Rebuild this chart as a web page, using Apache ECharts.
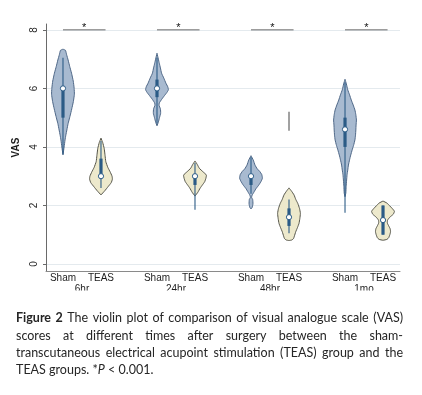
<!DOCTYPE html>
<html><head><meta charset="utf-8">
<script src="https://cdn.jsdelivr.net/npm/echarts@6/dist/echarts.min.js"></script>
<style>html,body{margin:0;padding:0;background:#fff}#c{width:422px;height:395px}</style>
</head><body><div id="c"></div>
<script>
// ---------- data ----------
const groups = ['6hr', '24hr', '48hr', '1mo'];
const arms = ['Sham', 'TEAS'];
const yTicks = [0, 2, 4, 6, 8];
const sigLevel = 8;
const sigLabel = '*';

// kernel density profiles: [VAS, relative density]
const shamDensity6hr = [[7.34,0],[7.3,0.22],[7.15,0.32],[6.97,0.45],[6.75,0.59],[6.52,0.75],[6.25,0.9],[6.0,0.98],[5.8,1.0],[5.55,0.91],[5.3,0.77],[5.04,0.61],[4.8,0.45],[4.58,0.34],[4.4,0.25],[4.24,0.18],[4.0,0.1],[3.73,0]];
const teasDensity6hr = [[4.3,0],[4.15,0.15],[3.95,0.28],[3.7,0.36],[3.5,0.42],[3.3,0.6],[3.15,0.8],[3.0,0.97],[2.9,1.0],[2.78,0.9],[2.64,0.62],[2.5,0.33],[2.36,0]];
const shamDensity24hr = [[7.2,0],[7.0,0.12],[6.86,0.2],[6.7,0.3],[6.52,0.4],[6.35,0.6],[6.18,0.78],[6.05,0.95],[5.95,1.0],[5.85,0.85],[5.75,0.65],[5.62,0.4],[5.5,0.2],[5.42,0.18],[5.3,0.3],[5.15,0.32],[5.0,0.22],[4.85,0.12],[4.72,0]];
const teasDensity24hr = [[3.52,0],[3.4,0.2],[3.27,0.38],[3.15,0.7],[3.04,1.0],[2.92,0.95],[2.81,0.85],[2.7,0.65],[2.59,0.45],[2.45,0.25],[2.32,0]];
const shamDensity48hr = [[3.7,0],[3.55,0.2],[3.38,0.35],[3.25,0.55],[3.16,0.77],[3.05,0.95],[2.93,1.0],[2.82,0.88],[2.7,0.69],[2.58,0.45],[2.47,0.28],[2.35,0.1],[2.28,0.05],[2.2,0.15],[2.05,0.17],[1.93,0.1],[1.88,0]];
const teasDensity48hr = [[2.6,0],[2.5,0.2],[2.36,0.44],[2.2,0.6],[2.07,0.77],[1.9,0.92],[1.73,1.0],[1.55,0.95],[1.39,0.88],[1.25,0.75],[1.1,0.59],[0.95,0.47],[0.87,0.4],[0.82,0.25],[0.8,0]];
const shamDensity1mo = [[6.31,0],[6.15,0.12],[5.95,0.24],[5.78,0.4],[5.6,0.55],[5.43,0.72],[5.26,0.87],[5.1,0.95],[4.92,1.0],[4.75,0.97],[4.58,0.95],[4.4,0.92],[4.24,0.87],[4.05,0.75],[3.9,0.63],[3.72,0.5],[3.56,0.4],[3.38,0.3],[3.21,0.24],[3.05,0.18],[2.87,0.14],[2.65,0.1],[2.42,0.07],[2.3,0]];
const teasDensity1mo = [[2.15,0],[2.08,0.35],[1.98,0.6],[1.9,0.8],[1.8,1.0],[1.7,0.9],[1.6,0.6],[1.5,0.4],[1.4,0.38],[1.3,0.5],[1.2,0.63],[1.1,0.66],[1.0,0.6],[0.9,0.5],[0.84,0.35],[0.81,0]];

// box stats per time point: [lower adjacent, q1, median, q3, upper adjacent]
const shamStats = [[3.75,5,6,6,7.05],[4.8,5.7,6,6.3,7.05],[2.4,2.7,3,3,3.65],[1.75,4,4.6,5,6.2]];
const teasStats = [[2.6,3,3,3.6,4.2],[1.85,2.7,3,3,3.45],[1.05,1.3,1.6,1.9,2.2],[1,1,1.5,2,2]];
// isolated outlier density (48hr TEAS): [from, to]
const teasOutlier48hr = [4.55, 5.2];

// ---------- layout ----------
const X0 = 0.447, GROUP_STEP = 2.474, ARM_STEP = 1, X_MAX = 9.316, HALF_W = 0.3;
const posOf = (g, a) => X0 + g * GROUP_STEP + a * ARM_STEP;
const shamDens = [shamDensity6hr, shamDensity24hr, shamDensity48hr, shamDensity1mo];
const teasDens = [teasDensity6hr, teasDensity24hr, teasDensity48hr, teasDensity1mo];
const violins = [];
groups.forEach((g, gi) => {
  violins.push({x: posOf(gi, 0), arm: 0, dens: shamDens[gi], stats: shamStats[gi]});
  violins.push({x: posOf(gi, 1), arm: 1, dens: teasDens[gi], stats: teasStats[gi]});
});
const armPositions = [], armLabels = {}, groupPositions = [], groupLabelMap = {};
groups.forEach((g, gi) => {
  arms.forEach((a, ai) => { const p = posOf(gi, ai); armPositions.push(p); armLabels[p.toFixed(3)] = a; });
  const c = posOf(gi, 0.5); groupPositions.push(c); groupLabelMap[c.toFixed(3)] = g;
});

const FILL = ['#a8bad0', '#ede9cc'];
const EDGE = ['#4e6787', '#55554a'];
const BOX = '#2b5b86';
const AXF = 'Liberation Sans, Arial, sans-serif';

const chart = echarts.init(document.getElementById('c'), null, {renderer: 'canvas'});

function violinItem(params, api) {
  const v = violins[params.dataIndex];
  const right = v.dens.map(([y, d]) => api.coord([v.x + d * HALF_W, y]));
  const left = v.dens.slice().reverse().map(([y, d]) => api.coord([v.x - d * HALF_W, y]));
  const [lo, q1, med, q3, hi] = v.stats;
  const pLo = api.coord([v.x, lo]), pHi = api.coord([v.x, hi]);
  const pQ1 = api.coord([v.x, q1]), pQ3 = api.coord([v.x, q3]);
  const pMed = api.coord([v.x, med]);
  const children = [
    {type: 'polygon', shape: {points: right.concat(left), smooth: 0.15},
     style: {fill: FILL[v.arm], stroke: EDGE[v.arm], lineWidth: 1}},
    {type: 'line', shape: {x1: pLo[0], y1: pLo[1], x2: pHi[0], y2: pHi[1]},
     style: {stroke: BOX, lineWidth: 1.1}},
  ];
  if (Math.abs(pQ1[1] - pQ3[1]) > 0.5) {
    children.push({type: 'line', shape: {x1: pQ1[0], y1: pQ1[1], x2: pQ3[0], y2: pQ3[1]},
      style: {stroke: BOX, lineWidth: 3.2}});
  }
  children.push({type: 'circle', shape: {cx: pMed[0], cy: pMed[1], r: 2.6},
    style: {fill: '#ffffff', stroke: BOX, lineWidth: 1}});
  return {type: 'group', children};
}

function outlierItem(params, api) {
  const x = posOf(2, 1);
  const a = api.coord([x, teasOutlier48hr[0]]), b = api.coord([x, teasOutlier48hr[1]]);
  return {type: 'line', shape: {x1: a[0], y1: a[1], x2: b[0], y2: b[1]}, style: {stroke: '#555', lineWidth: 1.1}};
}

function sigItem(params, api) {
  const gi = params.dataIndex;
  const a = api.coord([posOf(gi, 0), sigLevel]);
  const b = api.coord([posOf(gi, 1) + 0.12, sigLevel]);
  return {type: 'group', children: [
    {type: 'line', shape: {x1: a[0], y1: a[1], x2: b[0], y2: b[1]}, style: {stroke: '#6a6a6a', lineWidth: 1}},
    {type: 'text', x: (a[0] + b[0]) / 2, y: a[1] - 1.5, style: {text: sigLabel, fontSize: 11, fontFamily: AXF, fill: '#111', align: 'center', verticalAlign: 'middle'}}
  ]};
}

// ---------- caption ----------
const captionLines = [
  'Figure 2 The violin plot of comparison of visual analogue scale (VAS)',
  'scores at different times after surgery between the sham-',
  'transcutaneous electrical acupoint stimulation (TEAS) group and the',
  'TEAS groups. *P < 0.001.'
];
const CAP_FONT = 'Lato', CAP_SIZE = 12.5, CAP_L = 16, CAP_R = 403, CAP_Y0 = 318.3, CAP_LH = 17.3;
const cv = document.createElement('canvas').getContext('2d');
function measure(t, bold, italic) {
  cv.font = (italic ? 'italic ' : '') + (bold ? 'bold ' : '') + CAP_SIZE + 'px ' + CAP_FONT;
  return cv.measureText(t).width;
}
const graphics = [];
captionLines.forEach((line, li) => {
  const words = line.split(' ');
  const info = words.map((w, wi) => {
    const bold = li === 0 && wi < 2;
    if (w === '*P') return {w, bold, rich: true, width: measure('*', false, false) + measure('P', false, true)};
    return {w, bold, rich: false, width: measure(w, bold, false)};
  });
  const total = info.reduce((s, o) => s + o.width, 0);
  const justify = li < captionLines.length - 1;
  const gap = justify ? (CAP_R - CAP_L - total) / (words.length - 1) : measure(' ', false, false);
  let x = CAP_L;
  const y = CAP_Y0 + li * CAP_LH;
  info.forEach(o => {
    const st = {fontSize: CAP_SIZE, fontFamily: CAP_FONT, fill: '#262626', fontWeight: o.bold ? 'bold' : 'normal', verticalAlign: 'middle', align: 'left'};
    if (o.rich) { st.text = '*{i|P}'; st.rich = {i: {fontStyle: 'italic', fontSize: CAP_SIZE, fontFamily: CAP_FONT, fill: '#262626'}}; }
    else st.text = o.w;
    graphics.push({type: 'text', x, y, style: st, z: 100});
    x += o.width + gap;
  });
});
// crop of the figure panel below the group labels
graphics.push({type: 'rect', shape: {x: 0, y: 290.5, width: 422, height: 12}, style: {fill: '#ffffff'}, z: 90});

chart.setOption({
  animation: false,
  backgroundColor: '#ffffff',
  grid: {left: 46, right: 22, top: 24, bottom: 124},
  xAxis: [
    {type: 'value', min: 0, max: X_MAX, position: 'bottom',
     axisLine: {show: true, onZero: false, lineStyle: {color: '#8a8a8a', width: 1}},
     axisTick: {show: false}, splitLine: {show: false},
     axisLabel: {customValues: armPositions, formatter: v => armLabels[v.toFixed(3)] || '', fontSize: 10, fontFamily: AXF, color: '#1e1e1e', margin: 2}},
    {type: 'value', min: 0, max: X_MAX, position: 'bottom', offset: 11,
     axisLine: {show: false}, axisTick: {show: false}, splitLine: {show: false},
     axisLabel: {customValues: groupPositions, formatter: v => groupLabelMap[v.toFixed(3)] || '', fontSize: 10, fontFamily: AXF, color: '#1e1e1e', margin: 2}}
  ],
  yAxis: {type: 'value', min: -0.24, max: 8.2,
    name: 'VAS', nameLocation: 'middle', nameRotate: 90, nameGap: 20,
    nameTextStyle: {fontSize: 10, fontFamily: AXF, color: '#1e1e1e', fontWeight: 'bold'},
    axisLine: {show: true, lineStyle: {color: '#6a6a6a', width: 1}},
    axisTick: {show: true, customValues: yTicks, length: 3, lineStyle: {color: '#6a6a6a'}},
    axisLabel: {customValues: yTicks, rotate: 90, fontSize: 10, fontFamily: AXF, color: '#1e1e1e', margin: 7},
    splitLine: {show: true, lineStyle: {color: '#e4eaee', width: 1}}},
  graphic: graphics,
  series: [
    {type: 'custom', renderItem: violinItem, data: violins.map(v => [v.x, v.stats[2]]), encode: {x: 0, y: 1}, z: 2, silent: true},
    {type: 'custom', renderItem: outlierItem, data: [[posOf(2, 1), teasOutlier48hr[1]]], encode: {x: 0, y: 1}, z: 2, silent: true},
    {type: 'custom', renderItem: sigItem, data: groups.map((g, gi) => [posOf(gi, 0.5), sigLevel]), encode: {x: 0, y: 1}, z: 3, silent: true}
  ]
});
</script></body></html>
